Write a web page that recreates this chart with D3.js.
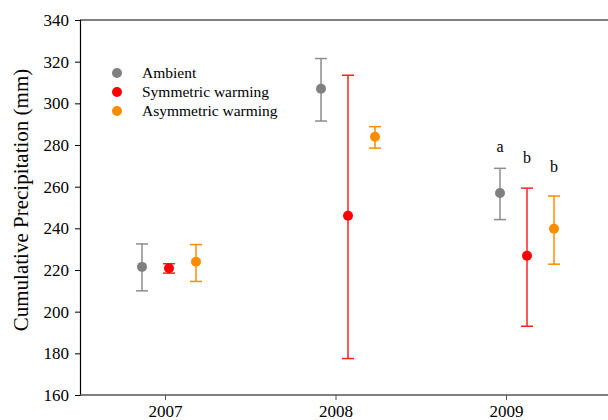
<!DOCTYPE html>
<html>
<head>
<meta charset="utf-8">
<script src="https://cdn.jsdelivr.net/npm/d3@7"></script>
<style>
  body { margin: 0; background: #fff; }
  svg, svg text { font-family: "Liberation Serif", "Times New Roman", Times, serif; }
</style>
</head>
<body>
<svg id="chart" width="608" height="420"></svg>
<script>
// data
var years = [2007, 2008, 2009];
var seriesNames = ["Ambient", "Symmetric warming", "Asymmetric warming"];
var seriesColors = ["#808080", "#ff0000", "#ff8c00"];
var barColors = ["#8c8c8c", "#ff2020", "#ff8c00"];

var ambientMean = [221.5, 307, 257];
var ambientLo = [210, 291.5, 244.2];
var ambientHi = [232.5, 321.5, 268.8];

var symMean = [220.8, 246, 226.8];
var symLo = [218.5, 177.5, 193];
var symHi = [223, 313.5, 259.3];

var asymMean = [224, 284, 239.8];
var asymLo = [214.5, 278.5, 222.8];
var asymHi = [232.2, 288.8, 255.5];

var yTicks = [160, 180, 200, 220, 240, 260, 280, 300, 320, 340];

// significance letters for 2009
var letters = ["a", "b", "b"];
var letterVals = [276.5, 271.5, 267];

var svg = d3.select("#chart");
var margin = {top: 20, right: 0, bottom: 25, left: 80};
var width = 608 - margin.left - margin.right;
var height = 420 - margin.top - margin.bottom;

var g = svg.append("g").attr("transform", "translate(" + margin.left + "," + margin.top + ")");

var y = d3.scaleLinear().domain([160, 340]).range([height, 0]);

// axis ticks and point groups don't share the same spacing in the original
var xTick = d3.scaleLinear().domain([2007, 2009]).range([85, 426]);
var xPt = d3.scaleLinear().domain([2007, 2009]).range([89, 447]);
var offsets = [-27, 0, 27];

var series = [
  {mean: ambientMean, lo: ambientLo, hi: ambientHi},
  {mean: symMean, lo: symLo, hi: symHi},
  {mean: asymMean, lo: asymLo, hi: asymHi}
];

// top frame line
g.append("line")
  .attr("x1", 0).attr("x2", width)
  .attr("y1", 0).attr("y2", 0)
  .attr("stroke", "#000").attr("stroke-width", 1.2);

var yAxis = g.append("g")
  .call(d3.axisLeft(y).tickValues(yTicks).tickSize(5).tickPadding(6));
yAxis.attr("font-family", null).attr("font-size", 17);
yAxis.select(".domain").attr("stroke", "#000").attr("stroke-width", 1.2);
yAxis.selectAll(".tick line").attr("stroke", "#000");
yAxis.selectAll("text").attr("fill", "#000");

var xAxis = g.append("g")
  .attr("transform", "translate(0," + height + ")")
  .call(d3.axisBottom(xTick).tickValues(years).tickFormat(d3.format("d")).tickSize(5).tickSizeOuter(0).tickPadding(5));
xAxis.attr("font-family", null).attr("font-size", 17);
xAxis.select(".domain").attr("stroke", "#555").attr("stroke-width", 1.5)
  .attr("d", "M0,0H" + width);
xAxis.selectAll(".tick line").attr("stroke", "#555");
xAxis.selectAll("text").attr("fill", "#000");

// y title
svg.append("text")
  .attr("transform", "translate(28,200) rotate(-90)")
  .attr("text-anchor", "middle")
  .attr("font-size", 21)
  .attr("fill", "#000")
  .text("Cumulative Precipitation (mm)");

series.forEach(function(s, i) {
  var sg = g.append("g");
  var px = function(d) { return xPt(years[d.j]) + offsets[i]; };
  var rows = years.map(function(yr, j) { return {j: j, mean: s.mean[j], lo: s.lo[j], hi: s.hi[j]}; });

  sg.selectAll(".bar").data(rows).enter().append("line")
    .attr("x1", px).attr("x2", px)
    .attr("y1", function(d) { return y(d.lo); })
    .attr("y2", function(d) { return y(d.hi); })
    .attr("stroke", barColors[i]).attr("stroke-width", 1.5);

  ["lo", "hi"].forEach(function(k) {
    sg.selectAll(".cap" + k).data(rows).enter().append("line")
      .attr("x1", function(d) { return px(d) - 6; })
      .attr("x2", function(d) { return px(d) + 6; })
      .attr("y1", function(d) { return y(d[k]); })
      .attr("y2", function(d) { return y(d[k]); })
      .attr("stroke", barColors[i]).attr("stroke-width", 1.5);
  });

  sg.selectAll("circle").data(rows).enter().append("circle")
    .attr("cx", px)
    .attr("cy", function(d) { return y(d.mean); })
    .attr("r", 5)
    .attr("fill", seriesColors[i]);
});

// letters above 2009
g.selectAll(".letter").data(letters).enter().append("text")
  .attr("x", function(d, i) { return xPt(2009) + offsets[i]; })
  .attr("y", function(d, i) { return y(letterVals[i]); })
  .attr("text-anchor", "middle")
  .attr("font-size", 16)
  .attr("fill", "#000")
  .text(function(d) { return d; });

// legend
var legend = g.append("g").attr("transform", "translate(37,53)");
seriesNames.forEach(function(name, i) {
  var row = legend.append("g").attr("transform", "translate(0," + (i * 19) + ")");
  row.append("circle").attr("cx", 0).attr("cy", 0).attr("r", 5).attr("fill", seriesColors[i]);
  row.append("text").attr("x", 25).attr("y", 5)
    .attr("font-size", 15.5).attr("fill", "#000").text(name);
});
</script>
</body>
</html>
